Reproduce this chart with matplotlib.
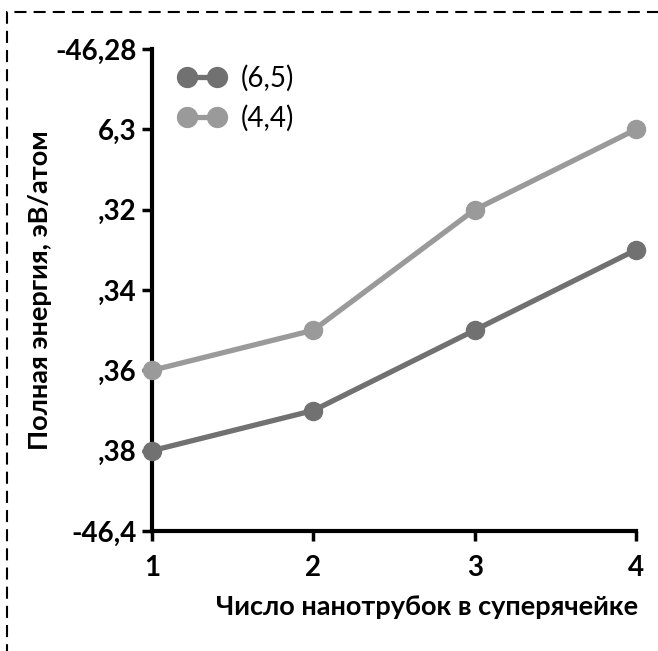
import matplotlib
matplotlib.use("Agg")
import matplotlib.pyplot as plt
import matplotlib.patches as mpatches

plt.rcParams['font.family'] = ['Lato', 'DejaVu Sans']

NTUBES = [1, 2, 3, 4]
E_65 = [-46.38, -46.37, -46.35, -46.33]
E_44 = [-46.36, -46.35, -46.32, -46.30]
YTICKS = [-46.28, -46.30, -46.32, -46.34, -46.36, -46.38, -46.40]
YLABELS = ["-46,28", "6,3", ",32", ",34", ",36", ",38", "-46,4"]

fig = plt.figure(figsize=(6.58, 6.51), dpi=100)
ax = fig.add_axes([0.231, 0.1843, 0.7357, 0.7404])

ax.plot(NTUBES, E_65, color="#717171", lw=3.8, marker="o", ms=13,
        clip_on=False, label="(6,5)", zorder=3)
ax.plot(NTUBES, E_44, color="#9a9a9a", lw=3.8, marker="o", ms=13,
        clip_on=False, label="(4,4)", zorder=3)

ax.set_xlim(1, 4)
ax.set_ylim(-46.40, -46.28)
ax.set_xticks(NTUBES)
ax.set_xticklabels([str(n) for n in NTUBES], fontsize=20, fontweight="bold")
ax.set_yticks(YTICKS)
ax.set_yticklabels(YLABELS, fontsize=20, fontweight="bold")
ax.tick_params(axis="both", direction="out", length=7, width=2.5, pad=4)
ax.tick_params(axis="x", pad=10)

for s in ["top", "right"]:
    ax.spines[s].set_visible(False)
for s in ["left", "bottom"]:
    ax.spines[s].set_linewidth(3)

ax.set_xlabel("Число нанотрубок в суперячейке", fontsize=19.5, fontweight="bold")
ax.set_ylabel("Полная энергия, эВ/атом", fontsize=19.5, fontweight="bold")
ax.xaxis.set_label_coords(0.568, -0.133)
ax.yaxis.set_label_coords(-0.207, 0.5)

ax.legend(loc="upper left", frameon=False, fontsize=20, handlelength=1.68,
          numpoints=2, markerscale=1.1, bbox_to_anchor=(0.004, 1.018),
          labelspacing=0.45, handletextpad=0.55)

border = mpatches.Rectangle((7 / 658, -0.5), 2.0, 1.5 - 12 / 651,
                            transform=fig.transFigure, fill=False,
                            ec="black", lw=1.5, ls=(0, (5.8, 3.4)))
fig.patches.append(border)

plt.savefig("out.png", dpi=100)
